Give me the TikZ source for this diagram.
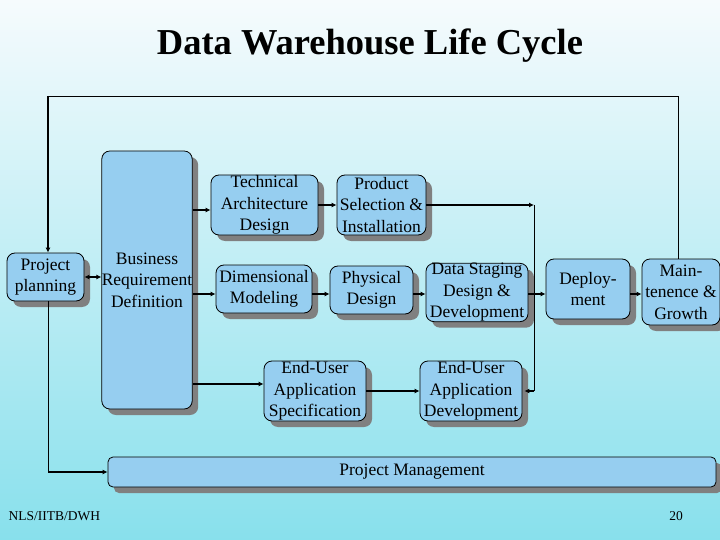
\documentclass[tikz,border=0pt]{standalone}
\usepackage{fontspec}
\setmainfont{Liberation Serif}
\usetikzlibrary{shadows,arrows.meta}
\definecolor{boxblue}{RGB}{150,206,240}
\definecolor{bgtop}{RGB}{246,251,253}
\definecolor{bgbot}{RGB}{136,224,236}
\definecolor{shgray}{RGB}{128,128,128}
\tikzset{
  stagebox/.style={draw=black, line width=0.8pt, fill=boxblue, rounded corners=8pt,
    inner sep=0pt, align=center, font=\fontsize{17.5}{21.5}\selectfont,
    drop shadow={shadow xshift=6pt, shadow yshift=-6pt, fill=shgray, opacity=1}},
  arr/.style={line width=1.8pt, -{Latex[length=5pt,width=5pt]}},
  thinline/.style={line width=0.9pt},
}
\begin{document}
\begin{tikzpicture}[x=1pt,y=-1pt]
\shade[top color=bgtop, bottom color=bgbot] (0,0) rectangle (720,540);
\useasboundingbox (0,0) rectangle (720,540);
\node[font=\fontsize{36.5}{42}\selectfont\bfseries] (title) at (370,46) {Data Warehouse Life Cycle};

\node[stagebox, minimum width=77, minimum height=48] (pp) at (45.5,277) {Project\\planning};
\node[stagebox, minimum width=90, minimum height=258] (brd) at (147,280) {Business\\Requirement\\Definition};
\node[stagebox, minimum width=107, minimum height=60] (tad) at (264.5,205) {Technical\\Architecture\\Design};
\node[stagebox, minimum width=89, minimum height=60] (psi) at (381.5,205) {Product\\Selection \&\\Installation};
\node[stagebox, minimum width=96, minimum height=48] (dm) at (264,289) {Dimensional\\Modeling};
\node[stagebox, minimum width=83, minimum height=48] (pd) at (371.5,290) {Physical\\Design};
\node[stagebox, minimum width=102, minimum height=57] (dsdd) at (477,292.5) {Data Staging\\Design \&\\Development};
\node[stagebox, minimum width=84, minimum height=60] (dep) at (588,289) {Deploy-\\ment};
\node[stagebox, minimum width=78, minimum height=66] (mg) at (681,292) {Main-\\tenence \&\\Growth};
\node[stagebox, minimum width=102, minimum height=60] (euas) at (315,391) {End-User\\Application\\Specification};
\node[stagebox, minimum width=102, minimum height=60] (euad) at (471,391) {End-User\\Application\\Development};
\node[stagebox, rounded corners=5pt, minimum width=608, minimum height=30] (pm) at (412,472) {Project Management};

\node[anchor=west, font=\fontsize{13.5}{15}\selectfont] (ft) at (5,516) {NLS/IITB/DWH};
\node[font=\fontsize{13.5}{15}\selectfont] (pg) at (676,516) {20};

\coordinate (ya) at (0,210);
\coordinate (yb) at (0,294);
\coordinate (yc) at (0,384);
\coordinate (vx) at (534,0);
\coordinate (topR) at (678,96);
\coordinate (topL) at (48,96);
\coordinate (botL) at (48,472);

% left side
\draw[line width=1.8pt, {Latex[length=5pt,width=5pt]}-{Latex[length=5pt,width=5pt]}] (pp.east) -- (brd.west |- pp.east);
\draw[arr] (brd.east |- ya) -- (tad.west |- ya);
\draw[arr] (brd.east |- yb) -- (dm.west |- yb);
\draw[arr] (brd.east |- yc) -- (euas.west |- yc);

% rows
\draw[arr] (tad.east |- psi.west) -- (psi.west);
\draw[arr] (psi.east) -- (vx |- psi.east);
\draw[thinline] (vx |- psi.east) -- (vx |- euad.east);
\draw[arr] (vx |- euad.east) -- ([xshift=2pt]euad.east);
\draw[arr] (dm.east |- yb) -- (pd.west |- yb);
\draw[arr] (pd.east |- yb) -- (dsdd.west |- yb);
\draw[arr] (dsdd.east |- yb) -- (dep.west |- yb);
\draw[arr] (dep.east |- yb) -- (mg.west |- yb);
\draw[arr] (euas.east) -- (euad.west);

% loops
\draw[thinline] (mg.north -| topR) -- (topR) -- (topL);
\draw[arr] (topL) -- (pp.north -| topL);
\draw[thinline] (pp.south -| botL) -- (botL);
\draw[arr] (botL) -- (pm.west |- botL);
\end{tikzpicture}
\end{document}
